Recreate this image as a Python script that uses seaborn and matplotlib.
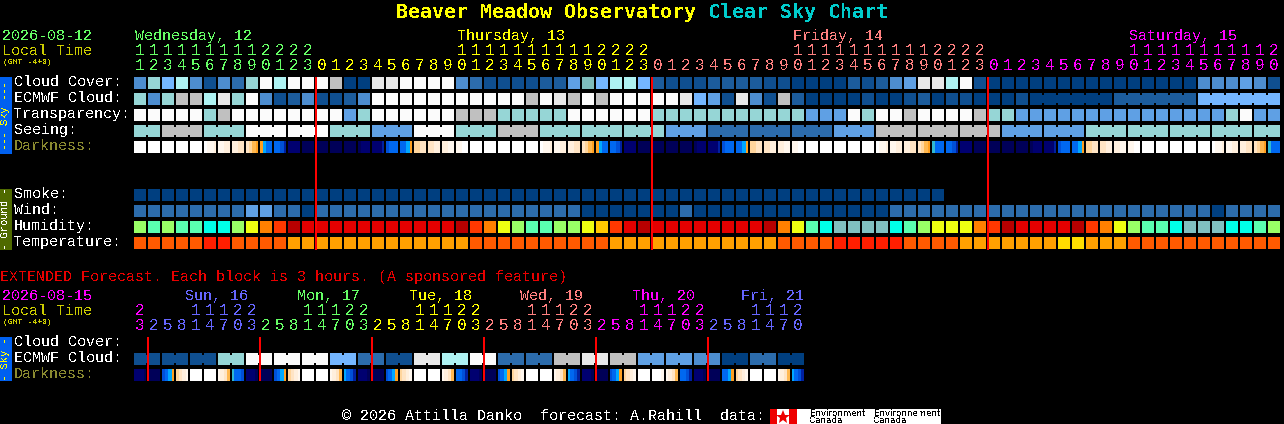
# Clear sky chart, every row is its own small heatmap
import numpy as np
import matplotlib
matplotlib.use("Agg")
import matplotlib.pyplot as plt
from matplotlib.colors import ListedColormap
from matplotlib.patches import Rectangle
import seaborn as sns

W, H = 1284, 424
DPI = 100
PX = 72 / DPI
LEFT = 134
PITCH = 14

plt.rcParams["font.family"] = ["Liberation Mono", "DejaVu Sans Mono"]
plt.rcParams["text.antialiased"] = False

# ------------------------------ hourly columns ------------------------------
hours = [11, 12, 13, 14, 15, 16, 17, 18, 19, 20, 21, 22, 23,
         0, 1, 2, 3, 4, 5, 6, 7, 8, 9, 10, 11, 12, 13, 14, 15, 16, 17, 18, 19, 20, 21, 22, 23,
         0, 1, 2, 3, 4, 5, 6, 7, 8, 9, 10, 11, 12, 13, 14, 15, 16, 17, 18, 19, 20, 21, 22, 23,
         0, 1, 2, 3, 4, 5, 6, 7, 8, 9, 10, 11, 12, 13, 14, 15, 16, 17, 18, 19, 20]
day_names = ["Wednesday, 12", "Thursday, 13", "Friday, 14", "Saturday, 15"]
day_colors = ["#66ff66", "#ffff00", "#ff8080", "#ff00ff"]

ext_hours = [23, 2, 5, 8, 11, 14, 17, 20, 23, 2, 5, 8, 11, 14, 17, 20, 23, 2, 5, 8, 11, 14, 17, 20, 23,
             2, 5, 8, 11, 14, 17, 20, 23, 2, 5, 8, 11, 14, 17, 20, 23, 2, 5, 8, 11, 14, 17, 20]
ext_day_names = ["Sun, 16", "Mon, 17", "Tue, 18", "Wed, 19", "Thu, 20", "Fri, 21"]
ext_day_colors = ["#ff00ff", "#6666ff", "#66ff66", "#ffff00", "#ff8080", "#ff00ff", "#6666ff"]

# ------------------------------ level palettes ------------------------------
sky_palette = ["#003f80", "#0f4f90", "#1c5c9c", "#2c6cac", "#4d8dcf", "#5fa0e4", "#74b6ff",
               "#7fbcbc", "#96d6d6", "#aef2f2", "#c0c0c0", "#e8e8e8", "#fbfbfb"]
humidity_palette = ["#80c0c0", "#00ffe8", "#5affb0", "#99ff66", "#eeff11", "#ffc800",
                    "#ff8000", "#ff3800", "#e40000", "#b80000"]
temp_palette = ["#ff1e00", "#ff5a00", "#ffa000", "#ffdd00"]
dark_levels = "WABCDEFTSGHIJK"
dark_palette = ["#ffffff", "#fff7ee", "#ffefdd", "#ffe4c4", "#ffd59c", "#ffb850", "#ffa020",
                "#30b8d0", "#00a8ff", "#0068f0", "#0050d8", "#0020a0", "#000070", "#000058"]

# ------------------------------ main rows ------------------------------
cloud_cover = [4, 8, 6, 9, 4, 1, 4, 3, 8, 12, 9, 12, 12, 12, 10, 0, 0, 11, 11, 12, 12, 12, 12,
               4, 3, 1, 1, 1, 1, 2, 2, 5, 7, 6, 9, 9, 6, 2, 1, 1, 1, 2, 2, 2, 2, 1, 1, 0, 0, 0, 0, 2,
               1, 2, 4, 5, 11, 11, 9, 12, 1, 0, 0, 0, 0, 0, 0, 0, 0, 0, 0, 0, 0, 0, 0, 0,
               4, 4, 4, 5, 4, 1]
ecmwf_cloud = [8, 4, 8, 10, 10, 9, 11, 8, 12, 4, 1, 2, 4, 1, 1, 2, 4, 12, 12, 12, 12,
               12, 12, 12, 12, 12, 12, 12, 10, 12, 11, 10, 12, 10, 12, 12, 12, 12, 12, 11, 6, 5, 1, 11,
               4, 1, 10, 2, 0, 0, 0, 0,
               1, 0, 0, 1, 2, 0, 1, 1, 0, 0, 0, 1, 0, 0, 0, 0, 0, 0,
               2, 2, 2, 2, 2, 2, 6, 6, 6, 6, 6, 6]
transparency = [12, 12, 12, 12, 12, 8, 10, 12, 12, 12, 12, 12, 12, 12, 12, 5, 8, 12, 12, 12, 12,
                12, 12, 10, 10, 10, 8, 8, 8, 8, 8, 12, 12, 12, 12, 12, 12, 8, 8, 8, 8, 8, 8, 8, 8, 8, 8, 8,
                5, 5, 5, 12, 8, 12, 12, 10, 12, 12, 12, 12, 10, 8, 8,
                5, 5, 5, 5, 5, 5, 5, 5, 5, 5, 5, 5, 5, 5, 5, 8, 12, 5, 5]
seeing = [8, 8, 10, 10, 10, 8, 8, 8, 12, 12, 12, 12, 12, 12, 8, 8, 8, 5, 5, 5, 12, 12, 12,
          8, 8, 8, 10, 10, 10, 8, 8, 8, 8, 8, 8, 8, 8, 8, 5, 5, 5, 3, 3, 3, 3, 3, 3, 3, 3, 3,
          5, 5, 5, 10, 10, 10, 10, 10, 10, 10, 10, 10, 5, 5, 5, 5, 5, 5,
          8, 8, 8, 8, 8, 8, 8, 8, 8, 8, 8, 8, 8, 8]
smoke = [0] * 58 + [np.nan] * 24
wind = [3, 3, 3, 3, 3, 3, 3, 3, 5, 5, 3, 3, 0, 3, 3, 3, 3, 3, 3, 3, 3,
        3, 3, 3, 3, 3, 3, 3, 3, 3, 3, 3, 0, 0, 0, 0, 0, 0, 0, 3, 0, 0, 0, 0, 0, 0, 0, 0, 0, 0, 0, 0,
        0, 0, 3, 3, 3, 3, 3, 3, 3, 3, 3, 3, 3, 3, 3, 3, 3, 3, 3, 3, 3, 3, 3, 3, 3, 0, 3, 3, 3, 3]
humidity = [3, 2, 3, 2, 2, 1, 1, 3, 4, 6, 7, 9, 8, 8, 8, 8, 8, 8, 8, 8, 8,
            8, 8, 9, 7, 6, 4, 3, 2, 2, 3, 3, 4, 5, 7, 8, 9, 8, 8, 8, 8, 8, 8, 8, 8, 9, 6, 4, 2, 1, 0, 0,
            0, 0, 1, 2, 3, 4, 4, 4, 6, 7, 9, 8, 8, 8, 8, 9, 7, 6, 4, 3, 2, 2, 1, 0, 0, 0, 1, 1, 2, 3]
temperature = [1, 1, 1, 1, 1, 0, 0, 1, 1, 1, 1, 2, 2, 2, 2, 2, 2, 2, 2, 2, 2,
               2, 2, 2, 1, 1, 1, 1, 1, 1, 1, 1, 1, 1, 2, 2, 2, 2, 2, 2, 2, 2, 2, 2, 2, 2, 1, 1, 1, 1, 0, 0,
               0, 0, 0, 1, 1, 1, 1, 2, 2, 2, 2, 2, 2, 2, 3, 3, 2, 2, 2, 1, 1, 1, 1, 1, 1, 1, 1, 1, 1, 1]
darkness = """WWWW WWWW WWWW WWWW WWWW WAAB AABB BBCC CDEF FSGG GGHI JJJJ KKKK KKKK KKKK KKKK KJJJ
JJJI HGGG GGSF DDCC CCBB BBAA AAWW WWWW WWWW WWWW WWWW WWWW
WAAB AABB BBCC CDEF FSGG GGHI JJJJ KKKK KKKK KKKK KKKK KJJJ JJJI HGGG GGSF DDCC CCBB BBAA AAWW
WWWW WWWW WWWW WWWW WWWW WAAB AABB BBCC CDEF TGGG GGHI JJJJ KKKK KKKK KKKK KKKK KJJJ JJJI HGGG
GGSF DDCC CCBB BBAA AAWW WWWW WWWW WWWW WWWW WWWW WAAB AABB BBCC CDEF TGGG""".split()

# ------------------------------ extended rows ------------------------------
ext_ecmwf = [1, 1, 1, 1, 1, 1, 8, 8, 12, 12, 12, 12, 12, 12, 6, 6, 3, 3, 1, 1, 11, 11, 9, 9,
             12, 12, 3, 3, 3, 3, 10, 10, 11, 11, 10, 10, 5, 5, 5, 5, 4, 4, 0, 0, 3, 3, 0, 0]
ext_darkness = """JJJK KKKK HGSF DCBA WWWW WWWW ABCE TGGH JJJK KKKK HGSF DCBA WWWW WWWW ABCE SGHI
JJJK KKKK HGSF DCBA WWWW WWWW ABCE GGHI JJJK KKKK HGSF DCBA WWWW WWWW ABCE SGHI
JJJK KKKK HGSF DCBA WWWW WWWA ABCE GGHI JJJK KKKK GGSF DCBA WWWW WWWW ABCE SGHI""".split()

# joined blocks share a small bridge: first column of each forecast group
seeing_starts = [0] + list(range(2, 82, 3))
ecmwf_starts = [64, 70, 76]
ext_starts = list(range(0, 48, 2))

fig = plt.figure(figsize=(W / DPI, H / DPI), dpi=DPI, facecolor="black")


def row_axes(top, n):
    # 1 px of margin either side, the heatmap grid lines eat it
    return fig.add_axes([(LEFT - 1) / W, 1 - (top + 13) / H, PITCH * n / W, 14 / H])


def block_row(values, palette, top, starts=None, last_joined=None):
    ax = row_axes(top, len(values))
    sns.heatmap(np.array([values], dtype=float), ax=ax, cmap=ListedColormap(palette),
                vmin=-0.5, vmax=len(palette) - 0.5, cbar=False, xticklabels=False, yticklabels=False,
                linewidths=2 * PX, linecolor="black", square=False)
    if starts is not None:
        for i in range(len(values) - 1):
            if (i + 1) in starts or (last_joined is not None and i + 1 < last_joined):
                continue
            ax.vlines(i + 1, 3 / 14, 11 / 14, color=palette[values[i]], lw=2 * PX)
    ax.set_axis_off()
    return ax


def dark_row(cells, top):
    ax = row_axes(top, len(cells))
    codes = [dark_levels.index(c) for cell in cells for c in cell]
    sns.heatmap(np.array([codes], dtype=float), ax=ax, cmap=ListedColormap(dark_palette),
                vmin=-0.5, vmax=len(dark_palette) - 0.5, cbar=False, xticklabels=False, yticklabels=False)
    ax.vlines(np.arange(len(cells) + 1) * 4, 0, 1, color="black", lw=2 * PX)
    ax.hlines([0, 1], 0, len(codes), color="black", lw=2 * PX)
    ax.set_axis_off()


block_row(cloud_cover, sky_palette, 77)
block_row(ecmwf_cloud, sky_palette, 93, starts=ecmwf_starts, last_joined=64)
block_row(transparency, sky_palette, 109)
block_row(seeing, sky_palette, 125, starts=seeing_starts)
dark_row(darkness, 141)
block_row(smoke, sky_palette, 189)
block_row(wind, sky_palette, 205)
block_row(humidity, humidity_palette, 221)
block_row(temperature, temp_palette, 237)

block_row(ext_ecmwf, sky_palette, 353, starts=ext_starts)
dark_row(ext_darkness, 369)

# -------------------------------- text overlay -------------------------------
ov = fig.add_axes([0, 0, 1, 1], zorder=10)
ov.set_xlim(0, W)
ov.set_ylim(H, 0)
ov.axis("off")

LABEL = 10.8
DIGIT = 11.4


def put(x, y, s, color="white", size=LABEL, **kw):
    ov.text(x, y, s, color=color, fontsize=size, va="baseline", **kw)


ov.text(396, 18, "Beaver Meadow Observatory", color="#ffff00", fontsize=14.35, fontweight="bold", va="baseline",
        family="DejaVu Sans Mono")
ov.text(708, 18, "Clear Sky Chart", color="#00cccc", fontsize=14.35, fontweight="bold", va="baseline",
        family="DejaVu Sans Mono")

# header
put(2, 40, "2026-08-12", "#66ff66")
put(2, 55, "Local Time", "#cccc00")
put(3, 64, "(GMT -4+0)", "#cccc00", size=5.9)
day = -1
for i, h in enumerate(hours):
    if h == 0 or i == 0:
        day += 1
    c = day_colors[day]
    cx = LEFT + PITCH * i + 6
    if h >= 10:
        ov.text(cx, 55, str(h // 10), color=c, fontsize=DIGIT, ha="center", va="baseline")
    ov.text(cx, 70, str(h % 10), color=c, fontsize=DIGIT, ha="center", va="baseline")
for x, name, c in zip([135, 457, 793, 1129], day_names, day_colors):
    put(x, 40, name, c)

labels = ["Cloud Cover:", "ECMWF Cloud:", "Transparency:", "Seeing:", "Darkness:"]
for y, name in zip([86, 102, 118, 134, 150], labels):
    put(14, y, name, "#8a8a30" if name == "Darkness:" else "white")
for y, name in zip([198, 214, 230, 246], ["Smoke:", "Wind:", "Humidity:", "Temperature:"]):
    put(14, y, name)

# side bars
ov.add_patch(Rectangle((0, 77), 12, 77, color="#0060f0", lw=0))
ov.text(5.5, 116, "--- Sky ---", color="#ffff00", fontsize=7.6, rotation=90, ha="center", va="center")
ov.add_patch(Rectangle((0, 189), 12, 61, color="#4f6a00", lw=0))
ov.text(5.5, 219, "- Ground -", color="white", fontsize=7.6, rotation=90, ha="center", va="center")
ov.add_patch(Rectangle((0, 337), 12, 44, color="#0060f0", lw=0))
ov.text(5.5, 359, "- Sky -", color="#ffff00", fontsize=7.6, rotation=90, ha="center", va="center")

# midnight lines
for i, h in enumerate(hours):
    if h == 0:
        ov.vlines(LEFT + PITCH * i, 77, 250, color="#ff0000", lw=2 * PX)

# extended section
put(0, 281, "EXTENDED Forecast. Each block is 3 hours. (A sponsored feature)", "#e80000")
put(2, 300, "2026-08-15", "#ff00ff")
put(2, 315, "Local Time", "#cccc00")
put(3, 324, "(GMT -4+0)", "#cccc00", size=5.9)
day = 0
for i, h in enumerate(ext_hours):
    if i > 0 and h < ext_hours[i - 1]:
        day += 1
        ov.vlines(LEFT + PITCH * i, 337, 381, color="#ff0000", lw=2 * PX)
    c = ext_day_colors[day]
    cx = LEFT + PITCH * i + 6
    if h >= 10:
        ov.text(cx, 315, str(h // 10), color=c, fontsize=DIGIT, ha="center", va="baseline")
    ov.text(cx, 330, str(h % 10), color=c, fontsize=DIGIT, ha="center", va="baseline")
for x, name, c in zip([185, 297, 409, 520, 632, 741], ext_day_names, ext_day_colors[1:]):
    put(x, 300, name, c)
for y, name in zip([346, 362, 378], ["Cloud Cover:", "ECMWF Cloud:", "Darkness:"]):
    put(14, y, name, "#8a8a30" if name == "Darkness:" else "white")

# footer with the logo strip
put(342, 420, "\u00a9 2026 Attilla Danko  forecast: A.Rahill  data:")
ov.add_patch(Rectangle((770, 409), 171, 15, color="white", lw=0))
ov.add_patch(Rectangle((770, 409), 7, 15, color="#ee0000", lw=0))
ov.add_patch(Rectangle((789, 409), 8, 15, color="#ee0000", lw=0))
ov.plot([783.3], [416.5], marker="*", color="#ee0000", ms=10, mew=0)
ov.text(810, 416, "Environment", color="black", fontsize=6.3, family="DejaVu Sans", va="baseline")
ov.text(810, 423, "Canada", color="black", fontsize=6.3, family="DejaVu Sans", va="baseline")
ov.text(874, 416, "Environnement", color="black", fontsize=6.3, family="DejaVu Sans", va="baseline")
ov.text(874, 423, "Canada", color="black", fontsize=6.3, family="DejaVu Sans", va="baseline")

fig.savefig("out.png", dpi=DPI, facecolor="black")
